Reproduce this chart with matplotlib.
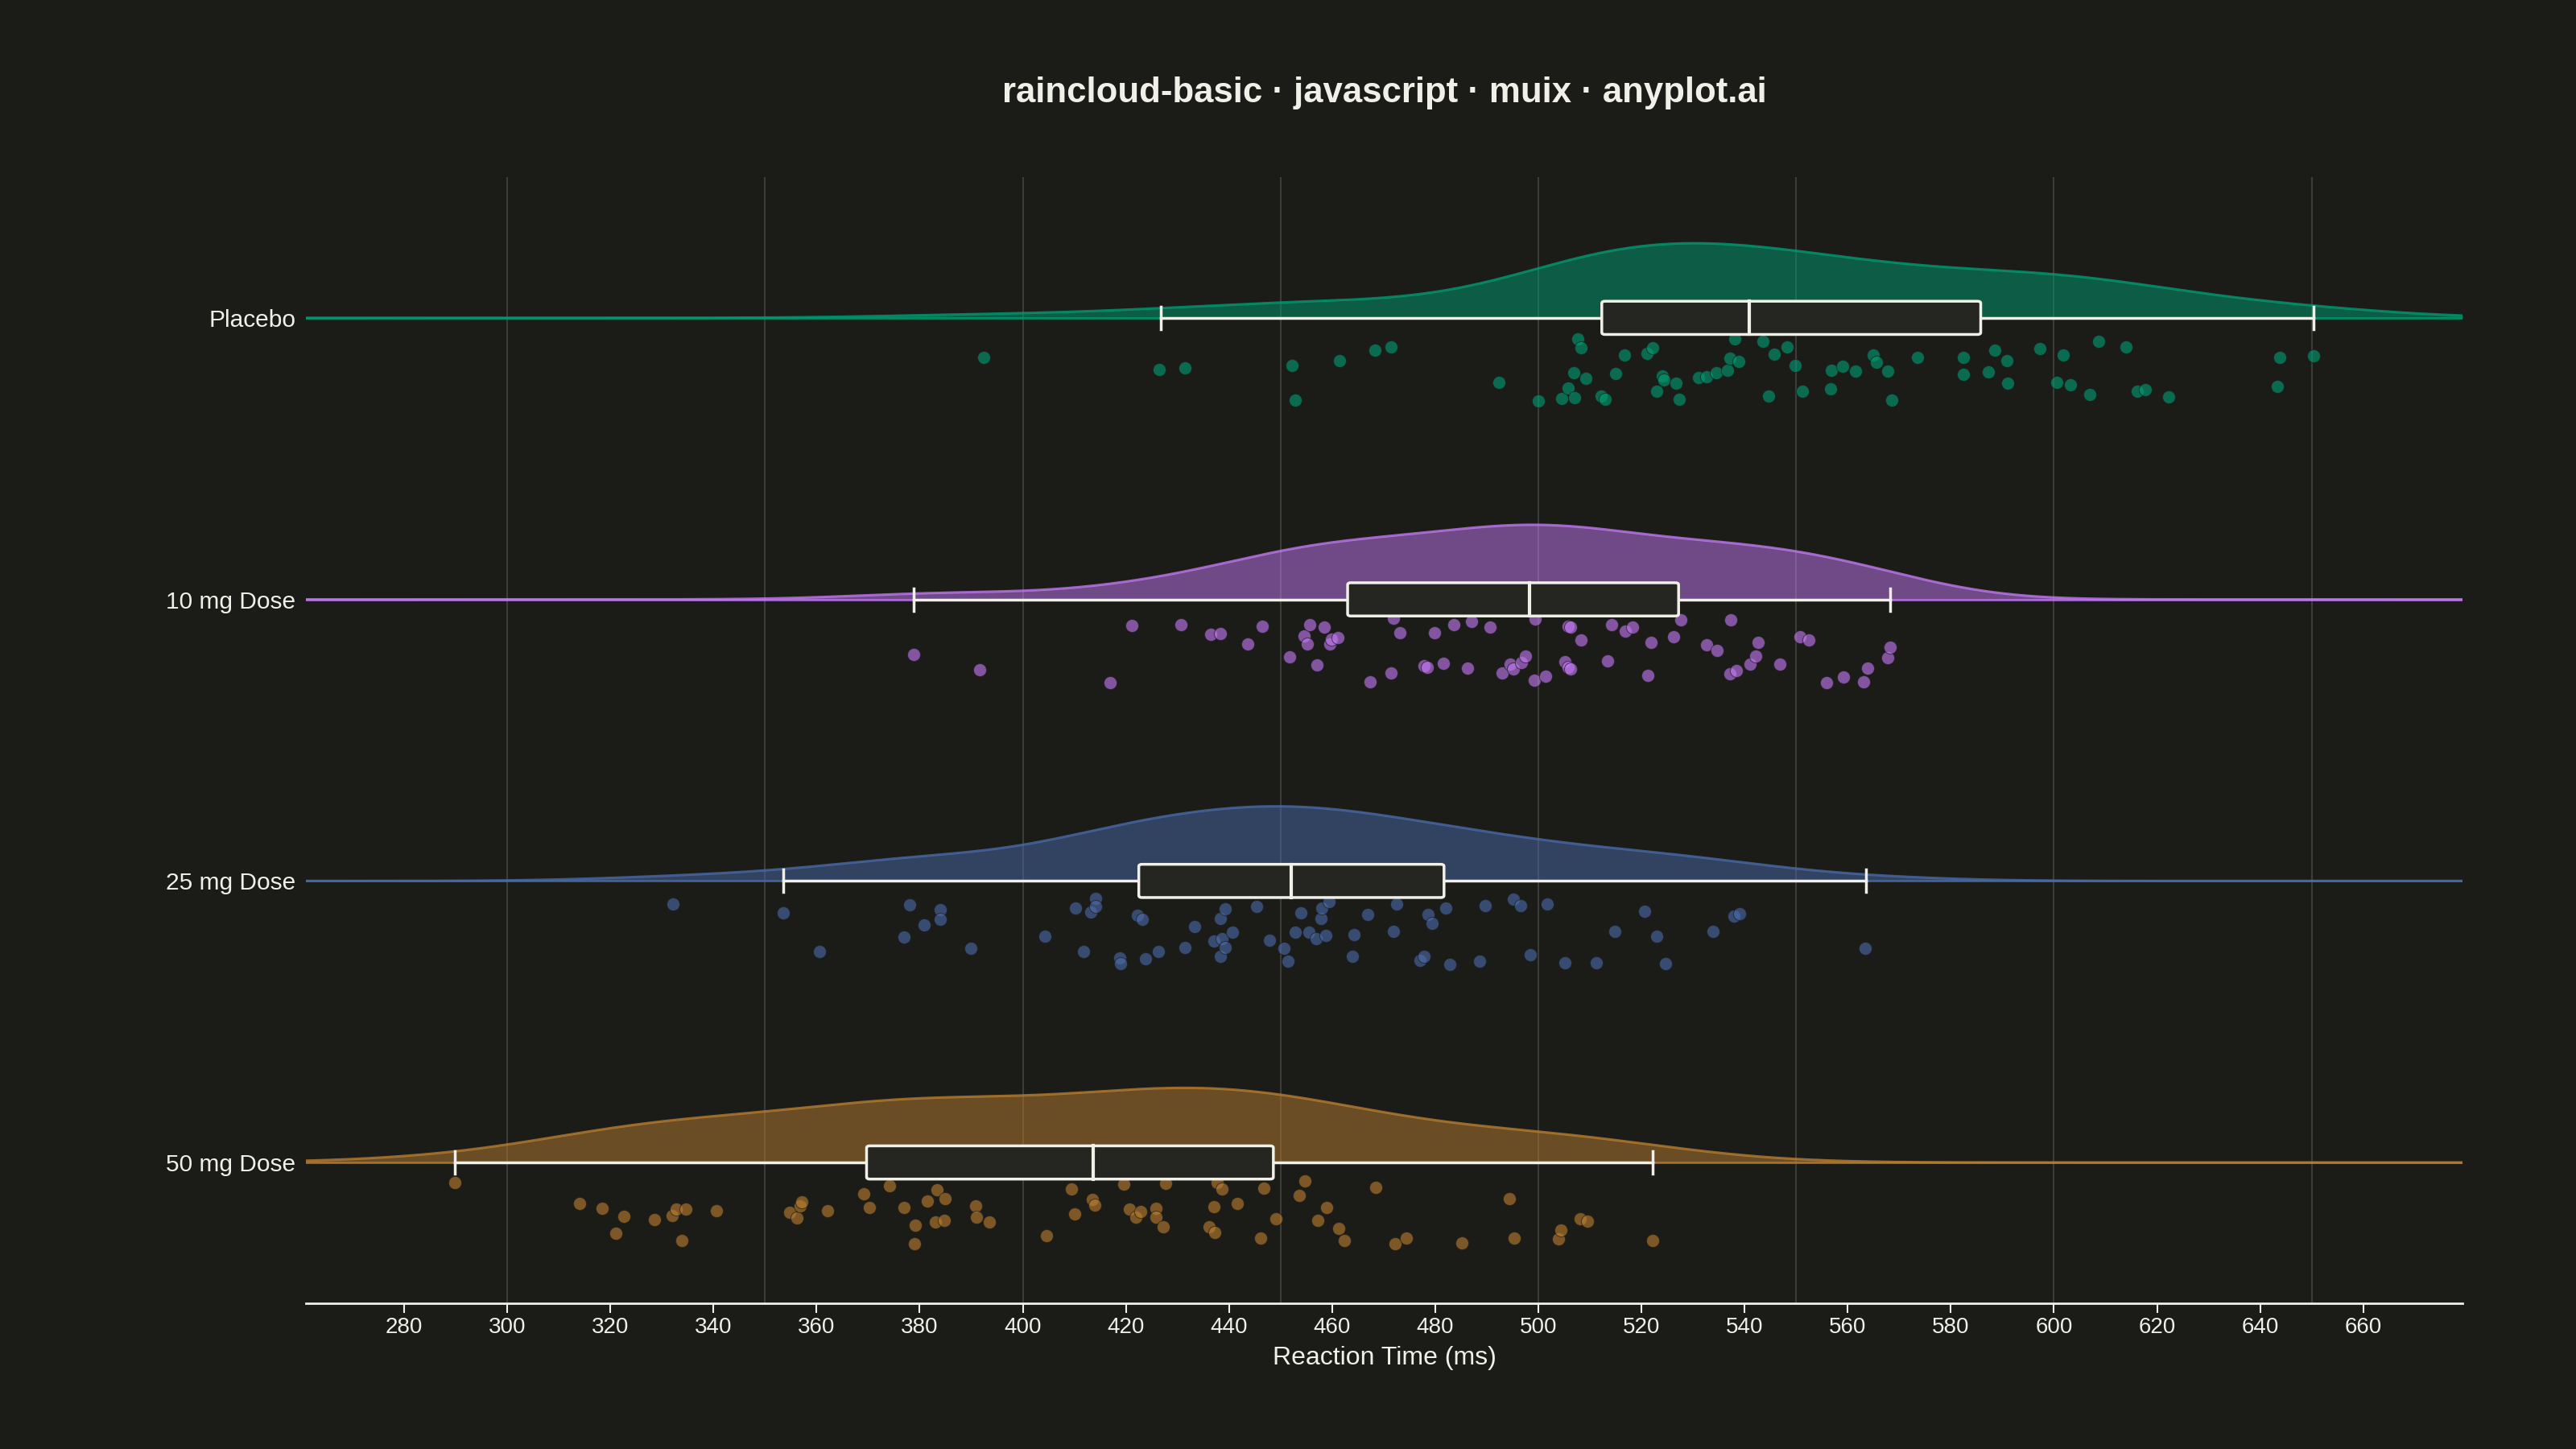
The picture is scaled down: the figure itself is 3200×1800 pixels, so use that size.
import numpy as np
import matplotlib.pyplot as plt
from matplotlib.patches import FancyBboxPatch

plt.rcParams['font.family'] = ['Liberation Sans', 'DejaVu Sans']

groups = ['Placebo', '10 mg Dose', '25 mg Dose', '50 mg Dose']
colors = ['#009E73', '#C47AF5', '#4A6BAA', '#BA7F30']

# reaction times (ms) and the vertical jitter of each dot
placebo = [392.4, 426.5, 431.5, 452.2, 452.8, 461.4, 468.3, 471.5, 492.4, 500.0,
           504.6, 505.8, 506.8, 507.6, 508.2, 507.0, 509.2, 512.2, 513.0, 515.0,
           516.7, 521.1, 522.1, 522.9, 524.1, 524.3, 526.7, 527.3, 531.1, 532.7,
           534.5, 536.7, 537.1, 538.1, 538.8, 543.6, 544.6, 545.8, 548.2, 549.8,
           551.2, 556.6, 556.8, 559.0, 561.5, 564.9, 565.5, 567.7, 568.5, 573.5,
           582.5, 582.5, 587.2, 588.6, 590.8, 591.0, 597.2, 600.6, 601.8, 603.2,
           607.0, 608.6, 613.9, 616.1, 617.7, 622.3, 643.4, 643.8, 650.4]
placebo_jit = [0.140, 0.184, 0.178, 0.169, 0.291, 0.152, 0.114, 0.104, 0.229, 0.295,
               0.286, 0.250, 0.195, 0.074, 0.105, 0.283, 0.214, 0.278, 0.289, 0.198,
               0.131, 0.125, 0.107, 0.262, 0.207, 0.221, 0.233, 0.289, 0.211, 0.210,
               0.194, 0.186, 0.143, 0.074, 0.156, 0.083, 0.279, 0.130, 0.103, 0.170,
               0.260, 0.253, 0.186, 0.171, 0.190, 0.131, 0.157, 0.190, 0.291, 0.142,
               0.142, 0.201, 0.193, 0.115, 0.153, 0.233, 0.110, 0.229, 0.131, 0.239,
               0.272, 0.082, 0.103, 0.262, 0.254, 0.281, 0.244, 0.140, 0.134]

dose10 = [378.8, 391.6, 416.9, 421.2, 430.6, 436.5, 438.3, 443.7, 446.4, 451.7,
          454.6, 455.2, 455.7, 457.1, 458.5, 459.6, 459.9, 461.1, 467.3, 471.5,
          471.9, 473.1, 477.9, 478.4, 479.9, 481.5, 483.6, 486.2, 487.0, 490.7,
          493.0, 494.6, 495.1, 496.7, 497.5, 499.2, 499.3, 501.4, 505.2, 505.7,
          506.3, 505.7, 506.3, 508.2, 513.5, 514.2, 516.9, 518.3, 521.2, 521.8,
          526.2, 527.6, 532.7, 534.7, 537.1, 537.3, 538.4, 541.1, 542.1, 542.6,
          546.9, 550.8, 552.4, 555.9, 559.1, 563.0, 563.8, 567.7, 568.3]
dose10_jit = [0.195, 0.250, 0.297, 0.092, 0.090, 0.123, 0.121, 0.158, 0.097, 0.205,
              0.129, 0.159, 0.090, 0.233, 0.099, 0.159, 0.141, 0.135, 0.292, 0.262,
              0.067, 0.119, 0.236, 0.240, 0.119, 0.226, 0.090, 0.243, 0.078, 0.098,
              0.260, 0.229, 0.246, 0.224, 0.200, 0.286, 0.070, 0.273, 0.221, 0.097,
              0.098, 0.241, 0.248, 0.145, 0.218, 0.090, 0.112, 0.098, 0.269, 0.154,
              0.133, 0.074, 0.162, 0.182, 0.265, 0.072, 0.252, 0.230, 0.200, 0.154,
              0.230, 0.133, 0.145, 0.297, 0.276, 0.294, 0.244, 0.207, 0.169]

dose25 = [332.1, 353.6, 360.6, 376.9, 378.1, 380.8, 384.0, 384.0, 389.9, 404.3,
          410.2, 411.8, 413.2, 414.1, 414.1, 418.8, 418.9, 422.2, 423.2, 423.8,
          426.3, 431.5, 433.4, 437.0, 438.3, 438.3, 438.6, 439.2, 439.2, 440.6,
          445.4, 447.8, 450.6, 451.5, 452.8, 454.0, 455.5, 456.9, 457.8, 458.0,
          458.7, 459.4, 463.9, 464.2, 466.9, 471.9, 472.5, 477.1, 477.8, 478.6,
          479.4, 482.1, 482.9, 488.6, 489.7, 495.2, 496.6, 498.4, 501.7, 505.1,
          511.3, 514.9, 520.6, 522.9, 524.6, 533.9, 538.0, 539.1, 563.4]
dose25_jit = [0.082, 0.113, 0.250, 0.198, 0.086, 0.157, 0.102, 0.135, 0.239, 0.195,
              0.096, 0.250, 0.110, 0.062, 0.092, 0.274, 0.295, 0.123, 0.136, 0.277,
              0.251, 0.237, 0.162, 0.214, 0.134, 0.269, 0.205, 0.236, 0.100, 0.183,
              0.092, 0.210, 0.240, 0.286, 0.182, 0.114, 0.181, 0.205, 0.134, 0.095,
              0.193, 0.074, 0.269, 0.192, 0.118, 0.178, 0.082, 0.281, 0.267, 0.119,
              0.150, 0.096, 0.297, 0.285, 0.088, 0.065, 0.089, 0.261, 0.083, 0.290,
              0.290, 0.180, 0.107, 0.196, 0.295, 0.178, 0.125, 0.117, 0.240]

dose50 = [289.8, 314.0, 318.4, 321.1, 322.7, 328.5, 332.0, 332.8, 333.8, 334.6,
          340.6, 354.8, 356.2, 356.8, 357.1, 362.1, 369.1, 370.2, 374.1, 377.0,
          379.0, 379.1, 381.5, 383.1, 383.3, 384.7, 385.0, 390.8, 391.0, 393.5,
          404.6, 409.4, 410.1, 413.5, 413.9, 419.6, 420.7, 422.0, 422.9, 425.9,
          425.9, 427.3, 427.7, 436.1, 437.0, 437.2, 437.7, 438.6, 441.6, 446.1,
          446.8, 449.1, 453.6, 454.7, 457.2, 459.0, 461.3, 462.4, 468.5, 472.2,
          474.4, 485.1, 494.4, 495.3, 503.9, 504.4, 508.1, 509.5, 522.2]
dose50_jit = [0.072, 0.145, 0.163, 0.252, 0.190, 0.202, 0.188, 0.166, 0.277, 0.166,
              0.171, 0.177, 0.198, 0.155, 0.139, 0.171, 0.111, 0.160, 0.082, 0.160,
              0.290, 0.222, 0.136, 0.212, 0.098, 0.206, 0.128, 0.155, 0.194, 0.212,
              0.261, 0.094, 0.182, 0.130, 0.150, 0.076, 0.165, 0.194, 0.173, 0.163,
              0.195, 0.230, 0.074, 0.229, 0.157, 0.249, 0.071, 0.093, 0.145, 0.268,
              0.091, 0.201, 0.116, 0.066, 0.207, 0.161, 0.233, 0.277, 0.089, 0.290,
              0.270, 0.285, 0.129, 0.268, 0.271, 0.239, 0.200, 0.208, 0.277]

# box summary per group: whisker low, Q1, median, Q3, whisker high
whisk_lo = [426.7, 378.9, 353.5, 289.8]
q1 = [512.3, 463.0, 422.5, 369.7]
median = [540.9, 498.3, 452.1, 413.6]
q3 = [585.8, 527.2, 481.7, 448.6]
whisk_hi = [650.4, 568.3, 563.5, 522.2]

values = [placebo, dose10, dose25, dose50]
jitters = [placebo_jit, dose10_jit, dose25_jit, dose50_jit]

bg = '#1b1b18'
fg = '#f0efe8'

fig = plt.figure(figsize=(32, 18), dpi=100, facecolor=bg)
ax = fig.add_axes([0.11875, 0.1006, 0.8372, 0.7772])
ax.set_facecolor(bg)

allv = np.concatenate([np.array(v) for v in values])
pad = 0.08 * (allv.max() - allv.min())
xmin, xmax = allv.min() - pad, allv.max() + pad
grid = np.linspace(xmin, xmax, 600)

for i, (g, c) in enumerate(zip(groups, colors)):
    v = np.array(values[i])
    # gaussian kde, silverman bandwidth
    sd = v.std(ddof=1)
    iqr = np.percentile(v, 75) - np.percentile(v, 25)
    bw = 0.9 * min(sd, iqr / 1.34) * len(v) ** -0.2
    d = np.exp(-0.5 * ((grid[:, None] - v[None, :]) / bw) ** 2).sum(axis=1)
    d = d / d.max() * 0.265
    ax.fill_between(grid, i, i - d, color=c, alpha=0.5, lw=0, zorder=2)
    ax.plot(grid, i - d, color=c, alpha=0.8, lw=2.2, zorder=2)
    ax.plot([xmin, xmax], [i, i], color=c, alpha=0.8, lw=2, zorder=2)

    ax.scatter(v, i + np.array(jitters[i]), s=135, color=c, alpha=0.62,
               edgecolor=bg, linewidth=0.8, zorder=3)

    # whiskers and caps
    ax.plot([whisk_lo[i], q1[i]], [i, i], color=fg, lw=2.5, zorder=4)
    ax.plot([q3[i], whisk_hi[i]], [i, i], color=fg, lw=2.5, zorder=4)
    for w in (whisk_lo[i], whisk_hi[i]):
        ax.plot([w, w], [i - 0.04, i + 0.04], color=fg, lw=2.5, zorder=4)
    box = FancyBboxPatch((q1[i], i - 0.059), q3[i] - q1[i], 0.118,
                         boxstyle='round,pad=0,rounding_size=0.6',
                         mutation_aspect=0.012,
                         facecolor='#252522', edgecolor=fg, lw=2.5, zorder=5)
    ax.add_patch(box)
    ax.plot([median[i], median[i]], [i - 0.059, i + 0.059], color=fg, lw=3, zorder=6)

ax.set_xlim(xmin, xmax)
ax.set_ylim(3.5, -0.5)
ax.set_yticks(range(len(groups)))
ax.set_yticklabels(groups, fontsize=21.5, color=fg)
ax.set_xticks(np.arange(280, 661, 20))
ax.tick_params(axis='x', colors=fg, labelsize=20, length=8.5, width=1.5, pad=4)
ax.tick_params(axis='y', length=0, pad=9)
for x in np.arange(300, 651, 50):
    ax.axvline(x, color='#3c3c38', lw=1.5, zorder=1)
for s in ['top', 'right', 'left']:
    ax.spines[s].set_visible(False)
ax.spines['bottom'].set_color(fg)
ax.spines['bottom'].set_linewidth(2)
ax.set_xlabel('Reaction Time (ms)', fontsize=23, color=fg, labelpad=7)

fig.text(0.5375, 0.936, 'raincloud-basic · javascript · muix · anyplot.ai',
         ha='center', va='center', fontsize=31.5, fontweight='bold', color=fg)

fig.savefig('out.png', dpi=100, facecolor=bg)
